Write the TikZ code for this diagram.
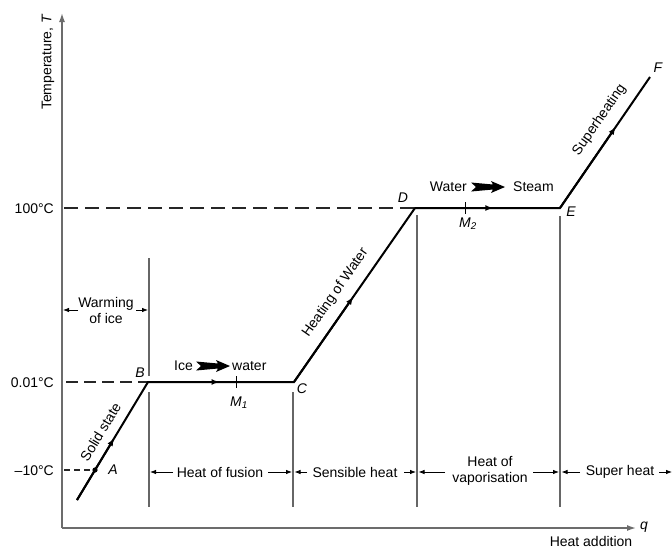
\documentclass[tikz,border=0pt]{standalone}
\usepackage{fontspec}
\setmainfont{Liberation Sans}
\usetikzlibrary{arrows.meta,calc}
\begin{document}
\begin{tikzpicture}[x=1pt,y=-1pt,
  font=\fontsize{14}{16}\selectfont,
  curve/.style={line width=2pt, black, line join=miter},
  midarrow/.style={line width=2pt, -{Latex[length=8pt,width=6pt]}},
  axisline/.style={line width=1.5pt, gray!85!black, -{Latex[length=9pt,width=6pt]}},
  vline/.style={line width=1.2pt, gray!80!black},
  dimarrow/.style={line width=0.8pt, black, -{Latex[length=6pt,width=4.5pt]}},
  dashA/.style={line width=1.3pt, black!85, dash pattern=on 14pt off 7pt},
  dashB/.style={line width=1.3pt, black!85, dash pattern=on 12pt off 6pt},
  dashC/.style={line width=1.3pt, black!85, dash pattern=on 6pt off 4pt},
  lbl/.style={inner sep=0pt},
  pt/.style={inner sep=0pt, font=\fontsize{14}{16}\selectfont\itshape},
  fatarrow/.pic={\fill (0,-4.5) -- (22,-2.5) -- (20,-6) -- (34,0) -- (20,6) -- (22,2.5) -- (0,4.5) -- (5,0) -- cycle;}
]
\useasboundingbox (0,0) rectangle (672,549);

% axes
\coordinate (O) at (62,528);
\coordinate (Ytop) at (62,13);
\coordinate (Xend) at (636,528);
\draw[axisline] (O) -- (Ytop);
\draw[axisline] (O) -- (Xend);
\node[lbl, rotate=90] (ylab) at (48,62) {Temperature, \textit{T}};
\node[lbl, font=\fontsize{14}{16}\selectfont\itshape] (qlab) at (644,527) {q};
\node[lbl] (xlab) at (591,541) {Heat addition};

% key points
\coordinate (S) at (77,500);
\coordinate (A) at (95,470);
\coordinate (B) at (148,382);
\coordinate (C) at (294,382);
\coordinate (D) at (415,208);
\coordinate (E) at (560,208);
\coordinate (F) at (650,77);

% vertical guide lines
\coordinate (VB1) at (149,258); \coordinate (VB2) at (149,376);
\coordinate (VB3) at (149,392); \coordinate (VB4) at (149,507);
\coordinate (VC1) at (293,392); \coordinate (VC2) at (293,507);
\coordinate (VD1) at (417,215); \coordinate (VD2) at (417,507);
\coordinate (VE1) at (560,216); \coordinate (VE2) at (560,507);
\draw[vline] (VB1) -- (VB2);
\draw[vline] (VB3) -- (VB4);
\draw[vline] (VC1) -- (VC2);
\draw[vline] (VD1) -- (VD2);
\draw[vline] (VE1) -- (VE2);

% dashed level lines
\coordinate (L100) at (64,208);
\coordinate (L001) at (66,382);
\coordinate (Lm10) at (64,470);
\draw[dashA] (L100) -- (D);
\draw[dashB] (L001) -- (B);
\draw[dashC] (Lm10) -- (A);
\node[lbl, anchor=east] (t100) at (54,209) {100°C};
\node[lbl, anchor=east] (t001) at (54,383) {0.01°C};
\node[lbl, anchor=east] (tm10) at (54,471) {–10°C};

% heating curve
\draw[curve] (S) -- (B) -- (C) -- (D) -- (E) -- (F);
\fill (A) circle (2.6pt);
\draw[midarrow] (S) -- ($(S)!0.525!(B)$);
\draw[midarrow] (B) -- ($(B)!0.49!(C)$);
\draw[midarrow] (C) -- ($(C)!0.49!(D)$);
\draw[midarrow] (D) -- ($(D)!0.54!(E)$);
\draw[midarrow] (E) -- ($(E)!0.62!(F)$);

% ticks
\coordinate (M1) at (236,382);
\coordinate (M2) at (465,208);
\draw[line width=1pt] ([yshift=6pt]M1) -- ([yshift=-6pt]M1);
\draw[line width=1pt] ([yshift=6pt]M2) -- ([yshift=-6pt]M2);
\node[pt] (m1lab) at (239,403) {M\textsubscript{1}};
\node[pt] (m2lab) at (468,224) {M\textsubscript{2}};

% point labels
\node[pt] (Alab) at (113,470) {A};
\node[pt] (Blab) at (140,373) {B};
\node[pt] (Clab) at (302,389) {C};
\node[pt] (Dlab) at (403,198) {D};
\node[pt] (Elab) at (571,212) {E};
\node[pt] (Flab) at (658,68) {F};

% sloped labels
\node[lbl, rotate=59] (solid) at (100.5,432) {Solid state};
\node[lbl, rotate=55.2] (heatw) at (335.5,293) {Heating of Water};
\node[lbl, rotate=55.5] (superh) at (599.5,120) {Superheating};

% phase change labels
\node[lbl, anchor=east] (ice) at (193,366) {Ice};
\pic at (196,366) {fatarrow};
\node[lbl, anchor=west] (water) at (232,366) {water};
\node[lbl, anchor=east] (Water) at (467,187) {Water};
\pic at (471,187) {fatarrow};
\node[lbl, anchor=west] (steam) at (513,187) {Steam};

% warming of ice
\node[lbl, align=center] (warm) at (106,310) {Warming\\of ice};
\coordinate (w1) at (78,310); \coordinate (w1t) at (63,310);
\coordinate (w2) at (136,310); \coordinate (w2t) at (148,310);
\draw[dimarrow] (w1) -- (w1t);
\draw[dimarrow] (w2) -- (w2t);

% bottom interval labels
\node[lbl] (fusion) at (220,472) {Heat of fusion};
\coordinate (f1) at (173,472); \coordinate (f1t) at (150,472);
\coordinate (f2) at (268,472); \coordinate (f2t) at (292,472);
\draw[dimarrow] (f1) -- (f1t);
\draw[dimarrow] (f2) -- (f2t);

\node[lbl] (sens) at (355,472) {Sensible heat};
\coordinate (s1) at (307,472); \coordinate (s1t) at (294.5,472);
\coordinate (s2) at (404,472); \coordinate (s2t) at (416,472);
\draw[dimarrow] (s1) -- (s1t);
\draw[dimarrow] (s2) -- (s2t);

\node[lbl, align=center] (vap) at (490,471) {Heat of\\vaporisation};
\coordinate (v1) at (445,472); \coordinate (v1t) at (418.5,472);
\coordinate (v2) at (533,472); \coordinate (v2t) at (559,472);
\draw[dimarrow] (v1) -- (v1t);
\draw[dimarrow] (v2) -- (v2t);

\node[lbl] (sup) at (620,472) {Super heat};
\coordinate (u1) at (580,472); \coordinate (u1t) at (561.5,472);
\coordinate (u2) at (659,472); \coordinate (u2t) at (672,472);
\draw[dimarrow] (u1) -- (u1t);
\draw[dimarrow] (u2) -- (u2t);
\end{tikzpicture}
\end{document}
